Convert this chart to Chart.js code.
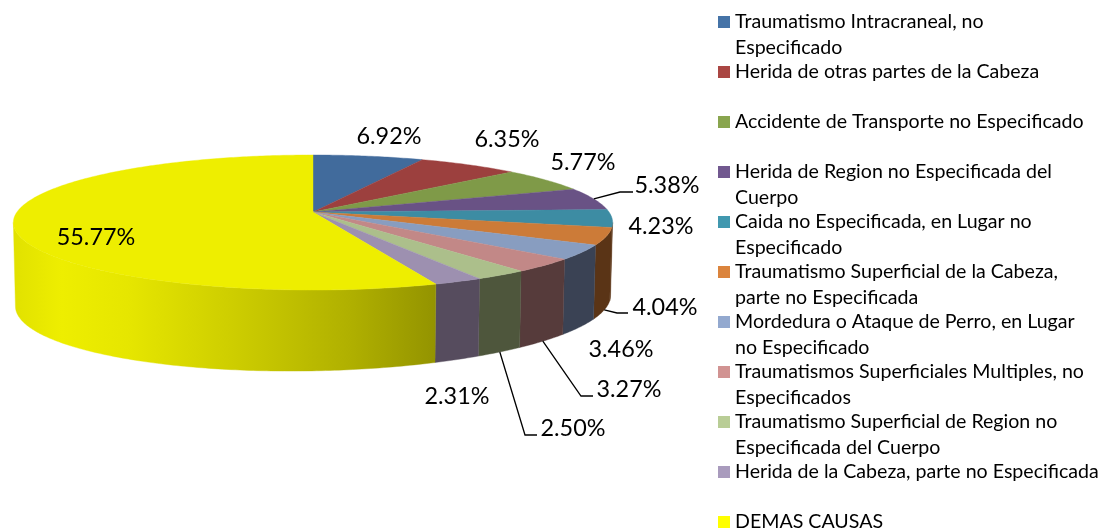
<!DOCTYPE html>
<html>
<head>
<meta charset="utf-8">
<style>html,body{margin:0;padding:0;background:#fff}canvas{display:block}</style>
<script src="https://cdn.jsdelivr.net/npm/chart.js@4/dist/chart.umd.min.js"></script>
</head>
<body>
<canvas id="c" width="1108" height="529"></canvas>
<script>
const categories = [
  ["Traumatismo Intracraneal, no","Especificado"],
  ["Herida de otras partes de la Cabeza"],
  ["Accidente de Transporte no Especificado"],
  ["Herida de Region no Especificada del","Cuerpo"],
  ["Caida no Especificada, en Lugar no","Especificado"],
  ["Traumatismo Superficial de la Cabeza,","parte no Especificada"],
  ["Mordedura o Ataque de Perro, en Lugar","no Especificado"],
  ["Traumatismos Superficiales Multiples, no","Especificados"],
  ["Traumatismo Superficial de Region no","Especificada del Cuerpo"],
  ["Herida de la Cabeza, parte no Especificada"],
  ["DEMAS CAUSAS"]
];
const values = [6.92,6.35,5.77,5.38,4.23,4.04,3.46,3.27,2.50,2.31,55.77];
const legendColors = ["#4573A7","#AA4643","#89A54E","#71588F","#4198AF","#DB843D","#93A9CF","#D19392","#B9CD96","#A99BBD","#FFFF00"];
const topColors = ["#416B9C","#9C403E","#7F9A48","#695285","#3D8CA3","#CC7B38","#889DC0","#C28887","#ACBF8B","#9D90B0","#EEEE00"];
const wallColors = ["#2A4668","#672A29","#546630","#453658","#5A3416","#5A3416","#3A4254","#563B3B","#4E563C","#564C5E","#8B8B00"];

// Pie view: one-point perspective of a flat disc and its lower rim.
const view = {radius:296, tilt:0.1556, topY:0.2226, botX:0.993, botY:0.2307, drop:78, botShear:0.018};
const FONT = "Lato";
const legendBox = {swatchX:718, swatch:12, textX:735, firstY:21, slot:50, line:26, size:19.6, textDrop:1};
const labelSize = 23.4;
// label centre, optional leader elbow and end, optional rim used by the leader
const labelLayout = [
  {x:389,y:136},{x:507,y:139},{x:583,y:162},
  {x:667,y:185,elbow:[620,192],end:[633,192],rim:"top"},
  {x:661,y:226},
  {x:665,y:307,elbow:[617,313],end:[628,313],rim:"bottom"},
  {x:621,y:349},
  {x:629,y:389,elbow:[581,396],end:[593,396],rim:"bottom"},
  {x:573,y:428,elbow:[525,435],end:[537,435],rim:"bottom"},
  {x:457,y:396},{x:96,y:237}
];

function projectTop(el,t){
  const u=Math.cos(t), v=-Math.sin(t), w=1+view.tilt*v;
  return [el.x+el.outerRadius*u/w, el.y-el.outerRadius*view.topY*v/w];
}
function projectBottom(el,t){
  const u=Math.cos(t), v=-Math.sin(t), w=1+view.tilt*v;
  const dx=el.outerRadius*view.botX*u/w;
  return [el.x+dx, el.y+view.drop-el.outerRadius*view.botY*v/w-dx*view.botShear];
}
function rimAngles(a,b){
  const n=Math.max(2,Math.ceil((b-a)/(Math.PI/240))), out=[];
  for(let i=0;i<=n;i++) out.push(a+(b-a)*i/n);
  return out;
}

// Slices keep the library's angles, centre and radius; only the projection changes.
Chart.ArcElement.prototype.draw = function(ctx){
  const o=this.options, ts=rimAngles(this.startAngle,this.endAngle);
  ctx.save();
  ctx.beginPath();
  ctx.moveTo(this.x,this.y);
  ts.forEach(t=>{const p=projectTop(this,t);ctx.lineTo(p[0],p[1]);});
  ctx.closePath();
  ctx.fillStyle=o.backgroundColor;
  ctx.strokeStyle=o.backgroundColor;
  ctx.lineWidth=0.4;
  ctx.fill();
  ctx.stroke();
  ctx.restore();
};

const walls = {
  id:"walls",
  beforeDatasetsDraw(chart){
    const ctx=chart.ctx, arcs=chart.getDatasetMeta(0).data;
    // only the part of the rim in front of the silhouette's tangent points is visible
    const tan=Math.asin(view.tilt), lo=tan, hi=Math.PI-tan;
    arcs.forEach((el,i)=>{
      const a=Math.max(el.startAngle,lo), b=Math.min(el.endAngle,hi);
      if(b<=a) return;
      const ts=rimAngles(a,b);
      ctx.beginPath();
      ts.forEach((t,k)=>{const p=projectTop(el,t);k?ctx.lineTo(p[0],p[1]):ctx.moveTo(p[0],p[1]);});
      ts.slice().reverse().forEach(t=>{const p=projectBottom(el,t);ctx.lineTo(p[0],p[1]);});
      ctx.closePath();
      if(i===values.length-1){
        const left=el.x-el.outerRadius, span=el.outerRadius*1.5;
        const g=ctx.createLinearGradient(left,0,left+span,0);
        g.addColorStop(0,"#E2E200");g.addColorStop(0.1,"#EEEE00");g.addColorStop(0.25,"#E6E600");
        g.addColorStop(0.5,"#CCCC00");g.addColorStop(0.75,"#B0B000");g.addColorStop(1,wallColors[i]);
        ctx.fillStyle=g;
      } else ctx.fillStyle=wallColors[i];
      ctx.fill();
      ctx.strokeStyle=ctx.fillStyle;ctx.lineWidth=0.4;ctx.stroke();
    });
  }
};

const annotations = {
  id:"annotations",
  afterDatasetsDraw(chart){
    const ctx=chart.ctx, arcs=chart.getDatasetMeta(0).data;
    ctx.save();
    ctx.textBaseline="middle";ctx.textAlign="center";ctx.fillStyle="#000";
    ctx.font=labelSize+"px "+FONT;
    values.forEach((val,i)=>{
      const L=labelLayout[i];
      ctx.fillText(val.toFixed(2)+"%",L.x,L.y);
      if(L.elbow){
        const el=arcs[i], mid=(el.startAngle+el.endAngle)/2;
        const s=L.rim==="top"?projectTop(el,mid):projectBottom(el,mid);
        ctx.beginPath();ctx.moveTo(s[0],s[1]);ctx.lineTo(L.elbow[0],L.elbow[1]);ctx.lineTo(L.end[0],L.end[1]);
        ctx.strokeStyle="#000";ctx.lineWidth=1.3;ctx.stroke();
      }
    });
    const B=legendBox;
    ctx.textAlign="left";ctx.font=B.size+"px "+FONT;
    categories.forEach((lines,i)=>{
      const y=B.firstY+B.slot*i;
      ctx.fillStyle=legendColors[i];
      ctx.fillRect(B.swatchX,y-B.swatch/2+1,B.swatch,B.swatch);
      ctx.fillStyle="#000";
      lines.forEach((ln,k)=>ctx.fillText(ln,B.textX,y+B.textDrop+k*B.line));
    });
    ctx.restore();
  }
};

new Chart(document.getElementById("c"),{
  type:"pie",
  data:{labels:categories,datasets:[{data:values,backgroundColor:topColors,borderWidth:0,radius:view.radius}]},
  options:{
    responsive:false,animation:false,
    layout:{padding:{left:0,top:0,right:482,bottom:105}},
    plugins:{legend:{display:false},tooltip:{enabled:false}}
  },
  plugins:[walls,annotations]
});
</script>
</body>
</html>
